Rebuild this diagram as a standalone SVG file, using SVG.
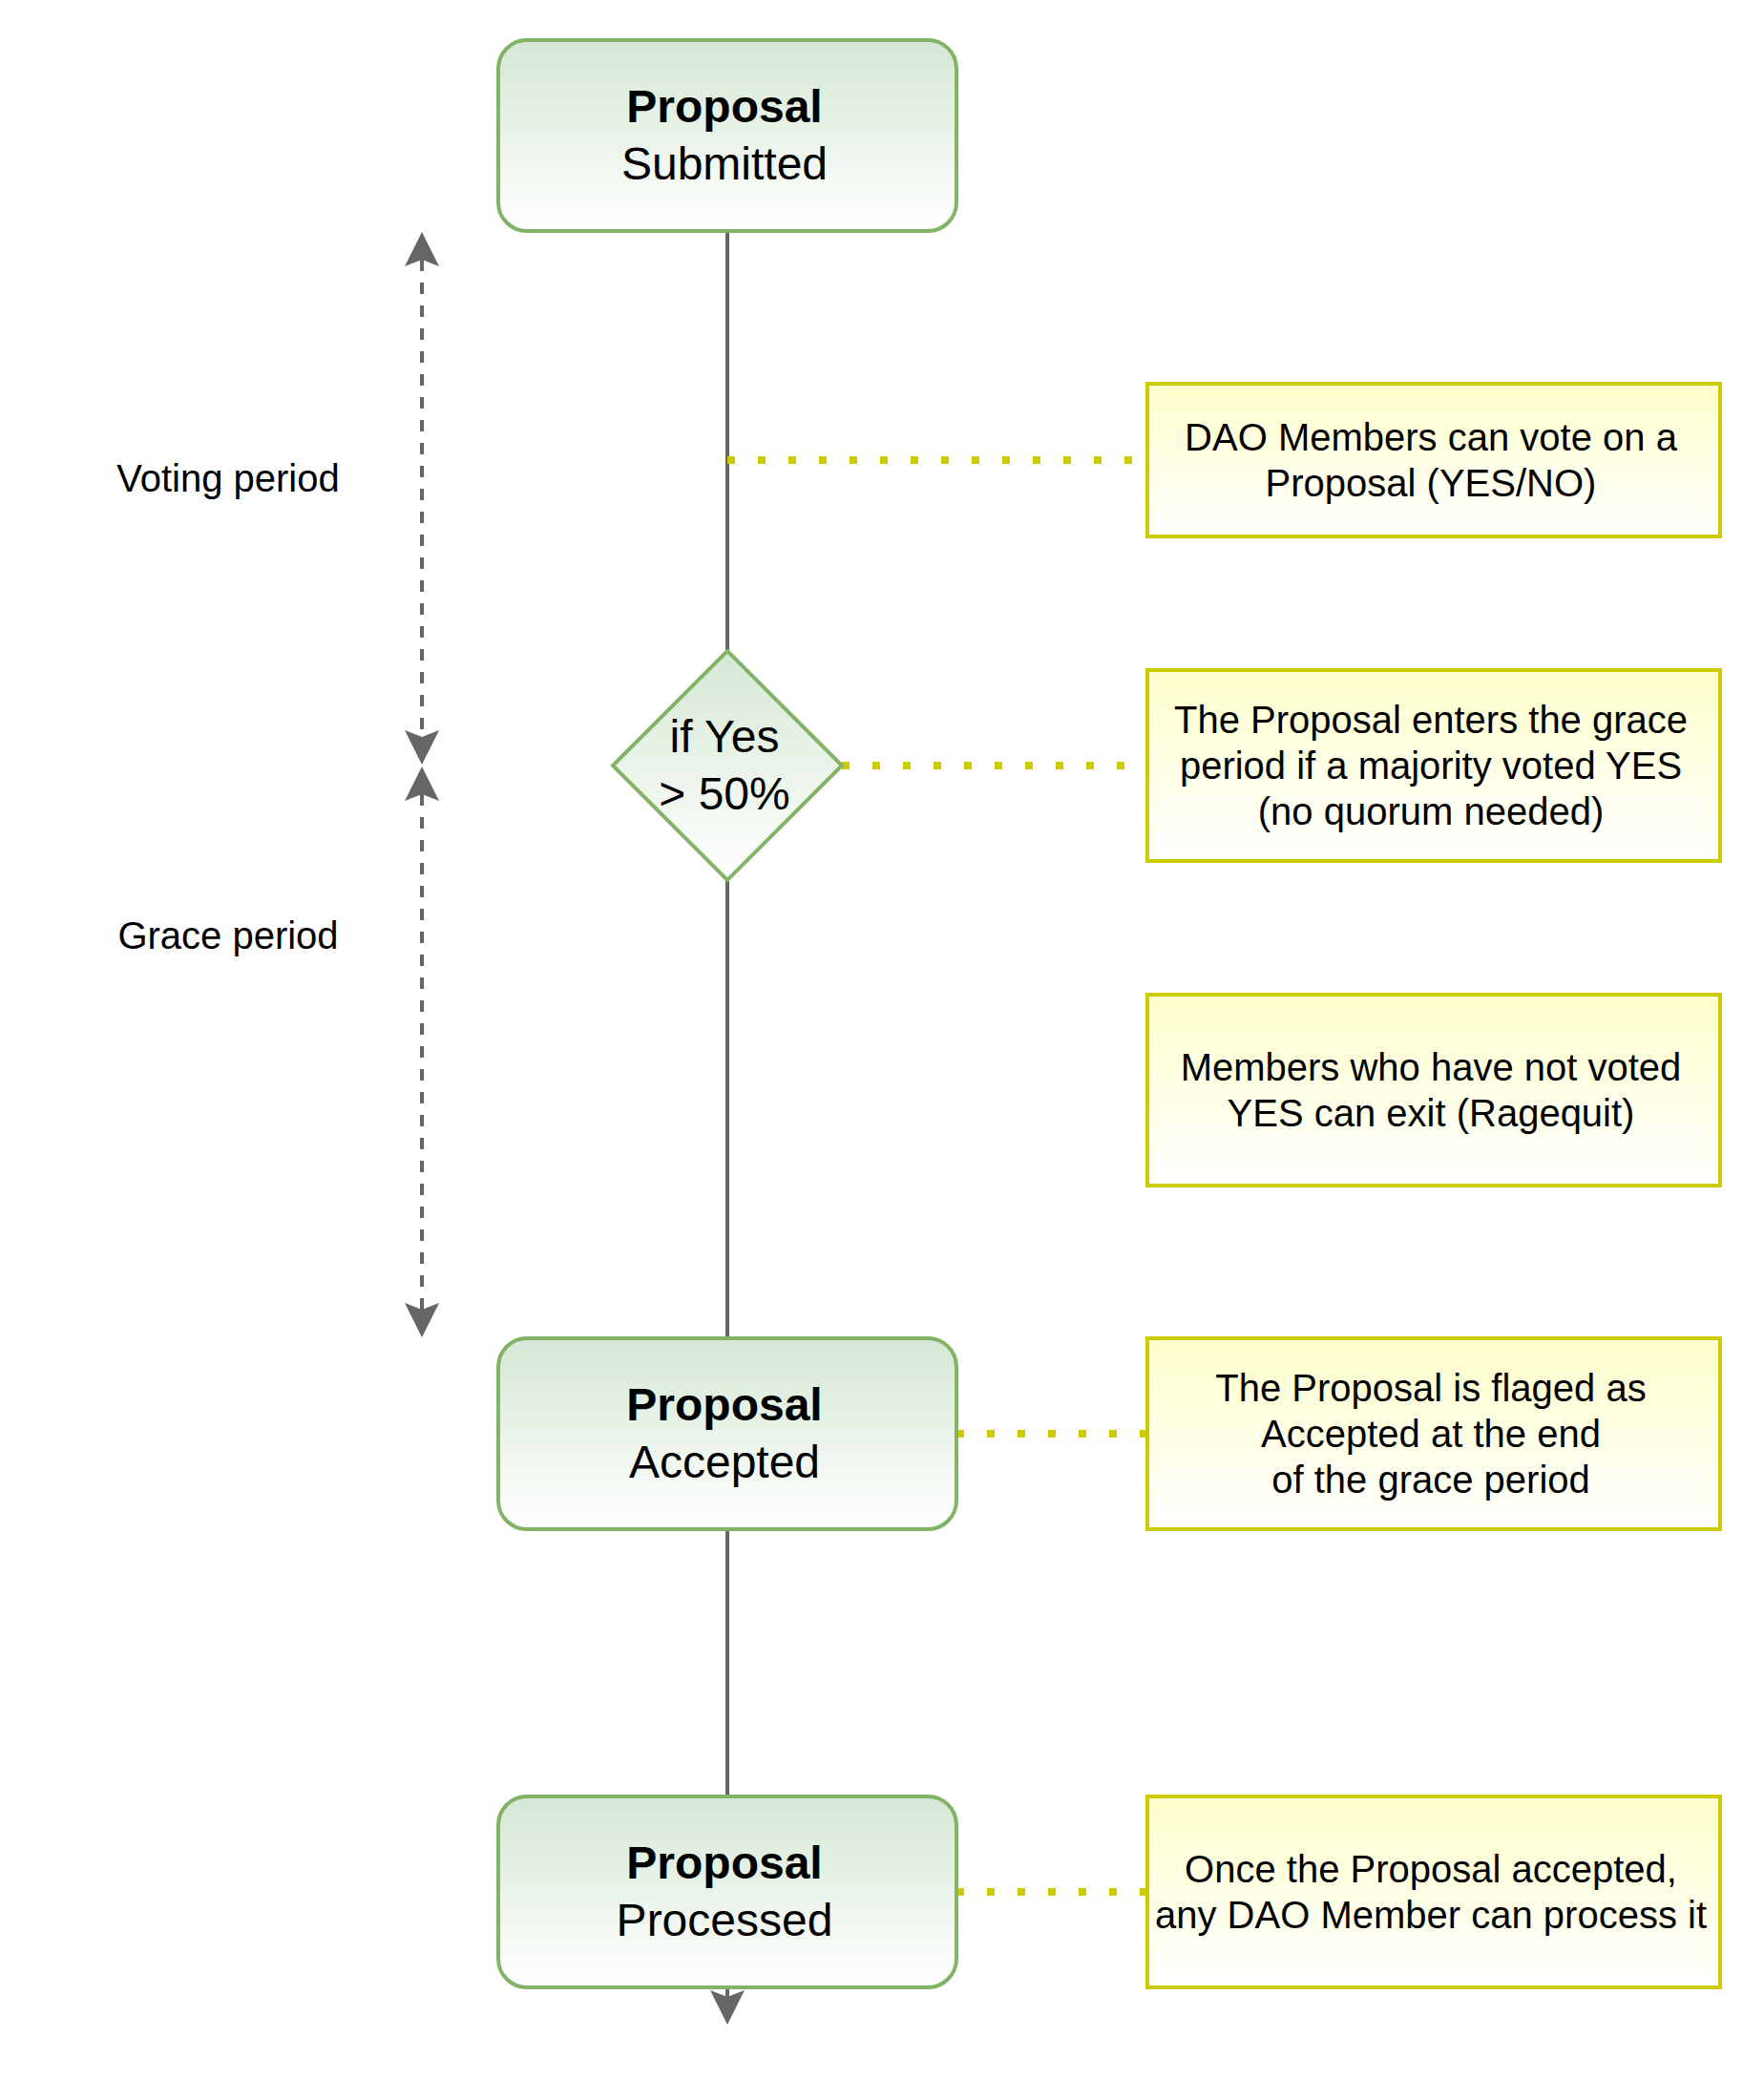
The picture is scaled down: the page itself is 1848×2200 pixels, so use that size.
<svg xmlns="http://www.w3.org/2000/svg" width="1848" height="2200" viewBox="0 0 1848 2200">
  <style>
    .state { stroke: #82b366; stroke-width: 4; fill: url(#gGreen); }
    .note { stroke: #cccc00; stroke-width: 4; fill: url(#gYellow); }
    .flow { stroke: #666666; stroke-width: 4; fill: none; }
    .period { stroke: #666666; stroke-width: 4; fill: none; stroke-dasharray: 12 12; }
    .dot { stroke: #cccc00; stroke-width: 8; fill: none; stroke-dasharray: 8 24; }
    text { font-family: "Liberation Sans", Arial, Helvetica, sans-serif; fill: #000000; text-anchor: middle; }
    .big { font-size: 48px; }
    .bold { font-weight: bold; }
    .small { font-size: 40px; }
  </style>
  <defs>
    <linearGradient id="gGreen" x1="0" y1="0" x2="0" y2="1">
      <stop offset="0" stop-color="#d5e8d4"/>
      <stop offset="1" stop-color="#ffffff"/>
    </linearGradient>
    <linearGradient id="gYellow" x1="0" y1="0" x2="0" y2="1">
      <stop offset="0" stop-color="#ffffcc"/>
      <stop offset="1" stop-color="#ffffff"/>
    </linearGradient>
    <marker id="arrow" viewBox="0 0 36 36" refX="7" refY="18" markerWidth="36" markerHeight="36" markerUnits="userSpaceOnUse" orient="auto-start-reverse">
      <path d="M0,0 L36,18 L0,36 L7,18 Z" fill="#666666" stroke="none"/>
    </marker>
  </defs>
  <rect width="1848" height="2200" fill="#ffffff"/>

  <g id="connectors">
    <line class="flow" x1="762" y1="242" x2="762" y2="682"/>
    <line class="flow" x1="762" y1="922" x2="762" y2="1402"/>
    <line class="flow" x1="762" y1="1602" x2="762" y2="1882"/>
    <line class="flow" x1="762" y1="2082" x2="762" y2="2092" marker-end="url(#arrow)"/>
    <line class="period" x1="442" y1="272" x2="442" y2="772" marker-start="url(#arrow)" marker-end="url(#arrow)"/>
    <line class="period" x1="442" y1="832" x2="442" y2="1372" marker-start="url(#arrow)" marker-end="url(#arrow)"/>
    <line class="dot" x1="762" y1="482" x2="1202" y2="482"/>
    <line class="dot" x1="882" y1="802" x2="1202" y2="802"/>
    <line class="dot" x1="1002" y1="1502" x2="1202" y2="1502"/>
    <line class="dot" x1="1002" y1="1982" x2="1202" y2="1982"/>
  </g>

  <g id="label-voting">
    <text class="small" x="239" y="515">Voting period</text>
  </g>
  <g id="label-grace">
    <text class="small" x="239" y="994">Grace period</text>
  </g>

  <g id="proposal-submitted">
    <rect class="state" x="522" y="42" width="480" height="200" rx="30" ry="30"/>
    <text class="big bold" x="759" y="128">Proposal</text>
    <text class="big" x="759" y="188">Submitted</text>
  </g>

  <g id="decision-yes">
    <polygon class="state" points="762,682 882,802 762,922 642,802"/>
    <text class="big" x="759" y="788">if Yes</text>
    <text class="big" x="759" y="848">&gt; 50%</text>
  </g>

  <g id="proposal-accepted">
    <rect class="state" x="522" y="1402" width="480" height="200" rx="30" ry="30"/>
    <text class="big bold" x="759" y="1488">Proposal</text>
    <text class="big" x="759" y="1548">Accepted</text>
  </g>

  <g id="proposal-processed">
    <rect class="state" x="522" y="1882" width="480" height="200" rx="30" ry="30"/>
    <text class="big bold" x="759" y="1968">Proposal</text>
    <text class="big" x="759" y="2028">Processed</text>
  </g>

  <g id="note-vote">
    <rect class="note" x="1202" y="402" width="600" height="160"/>
    <text class="small" x="1499" y="472">DAO Members can vote on a</text>
    <text class="small" x="1499" y="520">Proposal (YES/NO)</text>
  </g>

  <g id="note-grace">
    <rect class="note" x="1202" y="702" width="600" height="200"/>
    <text class="small" x="1499" y="768">The Proposal enters the grace</text>
    <text class="small" x="1499" y="816">period if a majority voted YES</text>
    <text class="small" x="1499" y="864">(no quorum needed)</text>
  </g>

  <g id="note-ragequit">
    <rect class="note" x="1202" y="1042" width="600" height="200"/>
    <text class="small" x="1499" y="1132">Members who have not voted</text>
    <text class="small" x="1499" y="1180">YES can exit (Ragequit)</text>
  </g>

  <g id="note-accepted">
    <rect class="note" x="1202" y="1402" width="600" height="200"/>
    <text class="small" x="1499" y="1468">The Proposal is flaged as</text>
    <text class="small" x="1499" y="1516">Accepted at the end</text>
    <text class="small" x="1499" y="1564">of the grace period</text>
  </g>

  <g id="note-processed">
    <rect class="note" x="1202" y="1882" width="600" height="200"/>
    <text class="small" x="1499" y="1972">Once the Proposal accepted,</text>
    <text class="small" x="1499" y="2020">any DAO Member can process it</text>
  </g>
</svg>
